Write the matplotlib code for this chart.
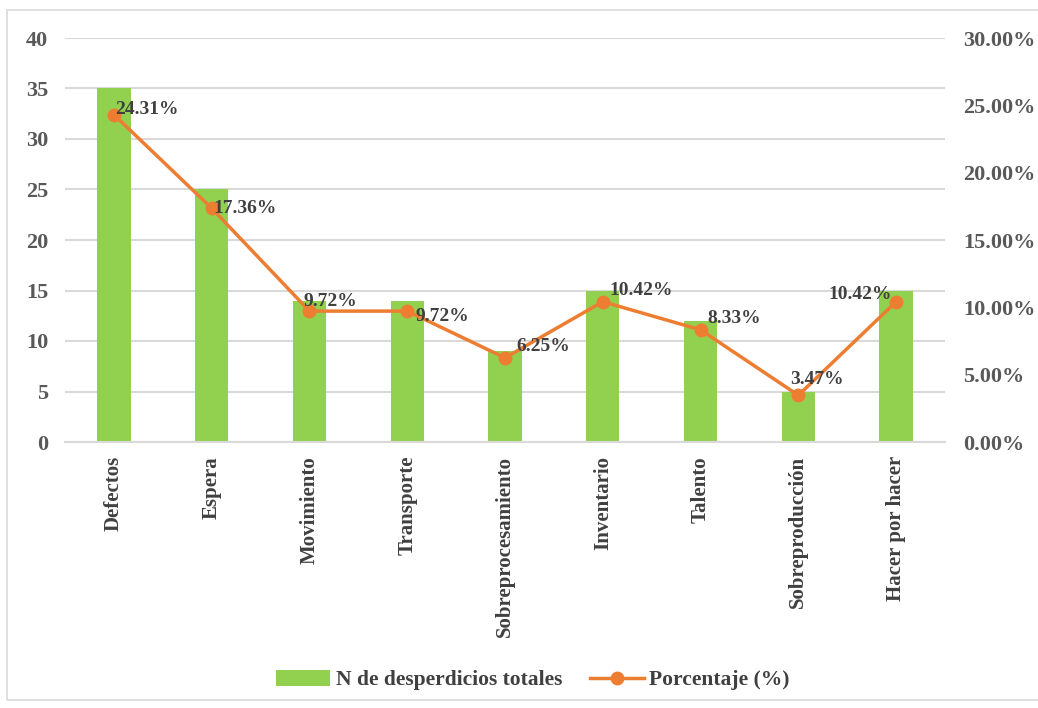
import matplotlib
matplotlib.use("Agg")
import matplotlib.pyplot as plt
from matplotlib.patches import Rectangle
from matplotlib.ticker import FuncFormatter

plt.rcParams['font.family'] = ['Liberation Serif', 'DejaVu Serif']
plt.rcParams['font.weight'] = 'bold'

categories = ["Defectos", "Espera", "Movimiento", "Transporte", "Sobreprocesamiento",
              "Inventario", "Talento", "Sobreproducción", "Hacer por hacer"]
counts = [35, 25, 14, 14, 9, 15, 12, 5, 15]
percent = [24.31, 17.36, 9.72, 9.72, 6.25, 10.42, 8.33, 3.47, 10.42]
# label offsets in points (dx, dy) and horizontal alignment per point
label_offsets = [(1, 4, 'left'), (1, 0, 'left'), (-4, 7, 'left'), (6, -4, 'left'),
                 (8, 8, 'left'), (5, 8, 'left'), (5, 8, 'left'), (-6, 11, 'left'),
                 (-3, 5, 'right')]

bar_color = "#92D050"
line_color = "#ED7D31"
tick_color = "#595959"
text_color = "#404040"
grid_color = "#D9D9D9"

W, H = 1038, 708
fig = plt.figure(figsize=(W / 100, H / 100), dpi=100)
fig.patches.append(Rectangle((7 / W, 8 / H), 1.1, 1 - 18 / H, transform=fig.transFigure,
                             fill=False, edgecolor="#D9D9D9", linewidth=1.2))

ax = fig.add_axes([65 / W, (H - 442) / H, 880 / W, 404 / H])
x = list(range(len(categories)))
ax.bar(x, counts, width=0.34, color=bar_color, label="N de desperdicios totales", zorder=2)
ax.set_xlim(-0.5, len(categories) - 0.5)
ax.set_ylim(0, 40)
ax.set_yticks(range(0, 41, 5))
ax.grid(axis='y', color=grid_color, linewidth=1.5, zorder=0)
ax.set_axisbelow(True)
for s in ax.spines.values():
    s.set_visible(False)
ax.spines['bottom'].set_visible(True)
ax.spines['bottom'].set_color(grid_color)
ax.spines['bottom'].set_linewidth(1.5)
ax.tick_params(axis='both', length=0)
ax.tick_params(axis='y', labelsize=16, labelcolor=tick_color, pad=12)
ax.set_xticks(x)
ax.set_xticklabels(categories, rotation=90, fontsize=15, color=text_color, fontweight='bold')
ax.tick_params(axis='x', pad=10)
for lab in ax.get_yticklabels():
    lab.set_fontweight('bold')

ax2 = ax.twinx()
ax2.plot(x, percent, color=line_color, linewidth=2.5, marker='o', markersize=9,
         label="Porcentaje (%)", zorder=3)
ax2.set_ylim(0, 30)
ax2.set_yticks(range(0, 31, 5))
ax2.yaxis.set_major_formatter(FuncFormatter(lambda v, p: f"{v:.2f}%"))
for s in ax2.spines.values():
    s.set_visible(False)
ax2.tick_params(axis='y', length=0, labelsize=16, labelcolor=tick_color, pad=13)
for lab in ax2.get_yticklabels():
    lab.set_fontweight('bold')

for xi, p, (dx, dy, ha) in zip(x, percent, label_offsets):
    ax2.annotate(f"{p:.2f}%", (xi, p), xytext=(dx, dy), textcoords='offset points',
                 ha=ha, va='center', fontsize=14, fontweight='bold', color=text_color, zorder=4)

h1, l1 = ax.get_legend_handles_labels()
h2, l2 = ax2.get_legend_handles_labels()
leg = fig.legend(h1 + h2, l1 + l2, loc='center', bbox_to_anchor=(533 / W, 1 - 680 / H),
                 ncol=2, frameon=False, fontsize=15.5, handlelength=2.5, columnspacing=1.3,
                 handletextpad=0.25, handleheight=0.8)
for t in leg.get_texts():
    t.set_color(text_color)
    t.set_fontweight('bold')

fig.savefig("out.png", dpi=100)
